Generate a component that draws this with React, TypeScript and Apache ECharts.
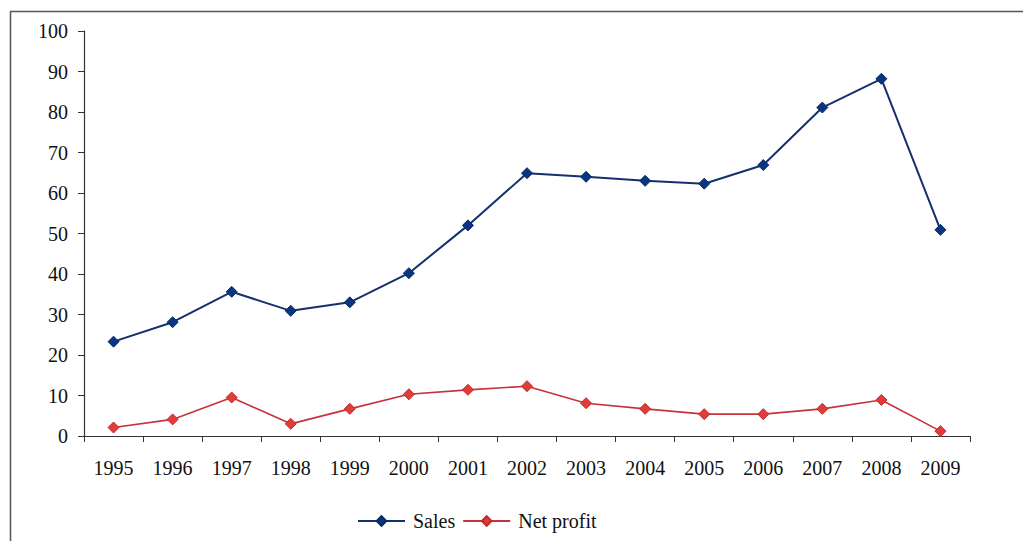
import React, { useEffect, useRef } from "react";
import * as echarts from "echarts";

const years = ["1995","1996","1997","1998","1999","2000","2001","2002","2003","2004","2005","2006","2007","2008","2009"];
const sales = [23.3, 28.1, 35.6, 30.9, 33.0, 40.2, 52.0, 64.9, 64.0, 63.0, 62.3, 66.9, 81.1, 88.2, 50.9];
const netProfit = [2.1, 4.1, 9.5, 3.0, 6.7, 10.3, 11.4, 12.3, 8.1, 6.7, 5.4, 5.4, 6.7, 8.9, 1.2];

const FONT = "Liberation Serif";

export default function App() {
  const ref = useRef<HTMLDivElement>(null);
  useEffect(() => {
    if (!ref.current) return;
    const chart = echarts.init(ref.current, null, { renderer: "svg" });
    chart.setOption({
      animation: false,
      backgroundColor: "#ffffff",
      textStyle: { fontFamily: FONT },
      graphic: [
        {
          type: "rect",
          shape: { x: 10.5, y: 11.5, width: 1100, height: 600 },
          style: { fill: "none", stroke: "#555", lineWidth: 1.5 },
          silent: true,
          z: -1,
        },
      ],
      grid: { left: 84, top: 31, right: 53, bottom: 105, containLabel: false },
      legend: {
        bottom: 5,
        left: 352,
        itemWidth: 47,
        itemHeight: 12,
        itemGap: 7,
        textStyle: { fontFamily: FONT, fontSize: 20, color: "#111", padding: [0, 0, 0, 3] },
        data: ["Sales", "Net profit"],
      },
      xAxis: {
        type: "category",
        data: years,
        boundaryGap: true,
        axisLine: { lineStyle: { color: "#333", width: 1.2 } },
        axisTick: { show: true, length: 6, inside: false, alignWithLabel: false, lineStyle: { color: "#333" } },
        axisLabel: { fontFamily: FONT, fontSize: 20, color: "#111", margin: 22, interval: 0 },
        splitLine: { show: false },
      },
      yAxis: {
        type: "value",
        min: 0,
        max: 100,
        interval: 10,
        axisLine: { show: true, lineStyle: { color: "#333", width: 1.2 } },
        axisTick: { show: true, length: 6, lineStyle: { color: "#333" } },
        axisLabel: { fontFamily: FONT, fontSize: 20, color: "#111", margin: 16 },
        splitLine: { show: false },
      },
      series: [
        {
          name: "Sales",
          type: "line",
          data: sales,
          symbol: "diamond",
          symbolSize: 11,
          lineStyle: { color: "#14306e", width: 2 },
          itemStyle: { color: "#0a3580", borderColor: "#0a2a66", borderWidth: 1 },
        },
        {
          name: "Net profit",
          type: "line",
          data: netProfit,
          symbol: "diamond",
          symbolSize: 11,
          lineStyle: { color: "#c8323a", width: 1.6 },
          itemStyle: { color: "#e03c3c", borderColor: "#c02a2a", borderWidth: 1 },
        },
      ],
    });
    return () => chart.dispose();
  }, []);
  return (
    <div
      ref={ref}
      style={{ position: "fixed", left: 0, top: 0, width: 1023, height: 541 }}
    />
  );
}
